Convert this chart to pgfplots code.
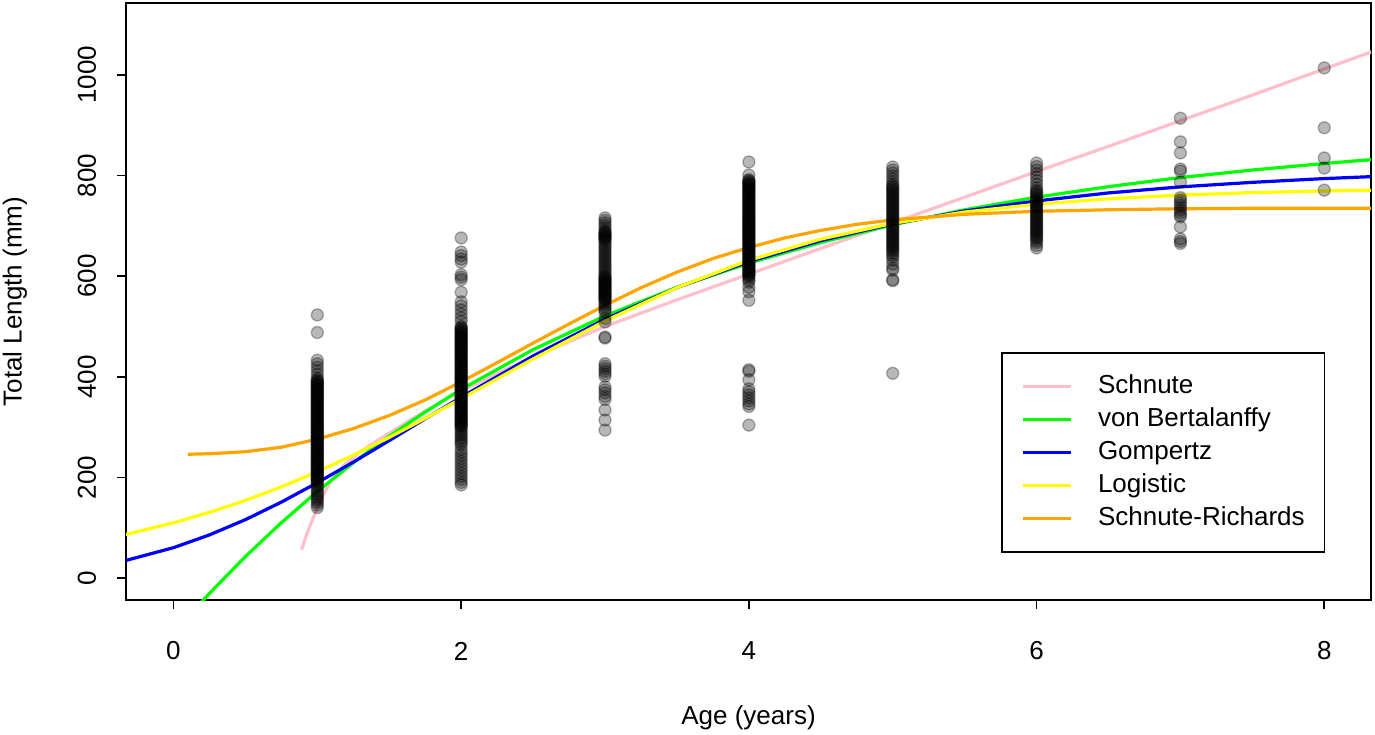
\documentclass[border=0pt]{standalone}
\usepackage{fontspec}
\setmainfont{Liberation Sans}
\usepackage{pgfplots}
\usepackage{pgfplotstable}
\pgfplotsset{compat=1.18}
\usetikzlibrary{calc}
\definecolor{rpink}{HTML}{FFC0CB}
\definecolor{rgreen}{HTML}{00FF00}
\definecolor{rblue}{HTML}{0000FF}
\definecolor{ryellow}{HTML}{FFFF00}
\definecolor{rorange}{HTML}{FFA500}

\pgfplotstableread{
x y
0.89 56
0.93 90
0.97 118
1.0 140
1.05 170
1.1 195
1.2 228
1.3 251
1.4 270
1.5 288
1.75 332
2.0 372
2.5 440
3.0 500
3.5 553
4.0 604
4.5 655
5.0 706
5.5 757
6.0 808
6.5 858
7.0 909
7.5 960
8.0 1012
8.33 1046
}\schnute

\pgfplotstableread{
x y
0.15 -61.5
0.25 -30.6
0.5 42.6
0.75 110
1 172
1.25 229
1.5 282
1.75 330
2 375
2.5 454
3 521
3.5 578
4 626
4.5 667
5 702
5.5 732
6 757
6.5 778
7 796
7.5 811
8 824
8.34 832
}\vonbert

\pgfplotstableread{
x y
-0.34 34.2
0 60.3
0.25 85.7
0.5 116.0
0.75 150.9
1 189.4
1.25 230.5
1.5 273.2
1.75 316.5
2 359.4
2.5 441.3
3 514.5
3.5 577.2
4 628.9
4.5 670.7
5 703.8
5.5 729.6
6 749.5
6.5 765.5
7 777.5
7.5 786.5
8 794
8.34 798
}\gompertz

\pgfplotstableread{
x y
-0.34 85.9
0 109.7
0.25 130.5
0.5 154.2
0.75 181.1
1 211.2
1.25 244.1
1.5 279.6
1.75 317.3
2 356.3
2.5 435.5
3 510.9
3.5 577.2
4 631.6
4.5 673.8
5 705
5.5 727.4
6 743.1
6.5 753.8
7 761.1
7.5 766.1
8 769.4
8.34 771.0
}\logistic

\pgfplotstableread{
x y
0.1 246
0.25 247
0.5 251
0.75 260
1.0 276
1.25 297
1.5 323
1.75 354
2.0 390
2.25 428
2.5 467
2.75 505
3.0 542
3.25 577
3.5 608
3.75 635
4.0 657
4.25 676
4.5 691
4.75 703
5.0 712
5.5 723
6.0 729
6.5 732
7.0 734
7.5 735
8.0 735
8.34 735
}\schnuterich

\begin{document}
\fontsize{13}{15.6}\selectfont
\begin{tikzpicture}
\begin{axis}[
  scale only axis, width=622.5pt, height=298.5pt,
  xmin=-0.33, xmax=8.325, ymin=-43.7, ymax=1143,
  axis line style={line width=0.8pt},
  xtick={0,2,4,6,8}, ytick={0,200,400,600,800,1000},
  xtick pos=bottom, ytick pos=left,
  tick align=outside, major tick length=4.5pt,
  every tick/.style={black, line width=0.8pt},
  /pgf/number format/assume math mode=true,
  /pgf/number format/1000 sep={},
  xticklabel style={anchor=center, yshift=-21pt},
  yticklabel style={anchor=center, xshift=-15pt, rotate=90},
  xlabel={Age (years)}, ylabel={Total Length (mm)},
  every axis x label/.style={at={(axis description cs:0.5,0)}, anchor=center, yshift=-59pt},
  every axis y label/.style={at={(axis description cs:0,0.5)}, anchor=center, xshift=-55.5pt, rotate=90},
  legend style={at={(axis description cs:0.7028,0.4154)}, anchor=north west,
    draw=black, line width=0.8pt, inner xsep=10pt, inner ysep=8.5pt,
    column sep=12.5pt, row sep=0pt,
    nodes={inner sep=0pt, minimum height=16.5pt, anchor=west}},
  legend cell align=left,
  legend image code/.code={\draw[#1] (0pt,0pt) -- (24pt,0pt);},
]
% scattered (isolated) observations
\addplot[only marks, mark=*, mark size=3pt, mark options={draw=black, fill=black, opacity=0.28, line width=0.7pt}, forget plot] coordinates {
(1,523)(1,488)(1,433)(1,426)(1,419)(1,412)(1,405)(1,398)(1,145)(1,140)
(2,676)(2,648)(2,641)(2,634)(2,628)(2,603)(2,598)(2,593)(2,568)(2,549)(2,541)(2,533)(2,525)(2,517)(2,510)
(2,256)(2,250)(2,244)(2,238)(2,232)(2,226)(2,220)(2,214)(2,208)(2,202)(2,196)(2,190)(2,185)
(3,716)(3,711)(3,706)(3,701)(3,696)(3,691)
(3,516)(3,509)(3,479)(3,477)(3,426)(3,421)(3,416)(3,411)(3,406)(3,401)(3,380)(3,374)(3,368)(3,361)(3,355)(3,334)(3,314)(3,294)
(4,827)(4,801)(4,578)(4,569)(4,552)(4,414)(4,411)(4,394)(4,376)(4,370)(4,364)(4,358)(4,352)(4,346)(4,341)(4,304)
(5,817)(5,811)(5,805)(5,799)(5,793)(5,787)(5,632)(5,624)(5,616)(5,612)(5,593)(5,591)(5,407)
(6,825)(6,818)(6,811)(6,804)(6,797)(6,790)(6,783)(6,776)(6,661)(6,656)
(7,914)(7,867)(7,845)(7,813)(7,809)(7,787)(7,756)(7,751)(7,746)(7,741)(7,736)(7,731)(7,726)(7,721)(7,718)(7,698)(7,674)(7,669)(7,665)
(8,1014)(8,895)(8,835)(8,815)(8,771)
};
% dense cores of the age groups (many overlapping observations)
\addplot[only marks, mark=*, mark size=3pt, mark options={draw=black, fill=black, opacity=0.28, line width=0.7pt}, forget plot] coordinates {
(1,394)(1,392)(1,390)(1,388)(1,386)(1,384)(1,382)(1,380)(1,378)(1,376)(1,374)(1,372)(1,370)(1,368)(1,366)(1,364)(1,362)(1,360)(1,358)(1,356)(1,354)(1,352)(1,350)(1,348)(1,346)(1,344)(1,342)(1,340)(1,338)(1,336)(1,334)(1,332)(1,330)(1,328)(1,326)(1,324)(1,322)(1,320)(1,318)(1,316)(1,314)(1,312)(1,310)(1,308)(1,306)(1,304)(1,302)(1,300)(1,298)(1,296)(1,294)(1,292)(1,290)(1,288)(1,286)(1,284)(1,282)(1,280)(1,278)(1,276)(1,274)(1,272)(1,270)(1,268)(1,266)(1,264)(1,262)(1,260)(1,258)(1,256)(1,254)(1,252)(1,250)(1,248)(1,246)(1,244)(1,242)(1,240)(1,238)(1,236)(1,234)(1,232)(1,230)(1,228)(1,226)(1,224)(1,222)(1,220)(1,218)(1,216)(1,214)(1,212)(1,210)(1,208)(1,206)(1,204)(1,202)(1,200)(1,198)(1,196)(1,194)(1,192)(1,190)(1,186)(1,182)(1,178)(1,174)(1,170)(1,166)(1,162)(1,158)(1,154)(1,150)
(2,500)(2,498)(2,496)(2,494)(2,492)(2,490)(2,488)(2,486)(2,484)(2,482)(2,480)(2,478)(2,476)(2,474)(2,472)(2,470)(2,468)(2,466)(2,464)(2,462)(2,460)(2,458)(2,456)(2,454)(2,452)(2,450)(2,448)(2,446)(2,444)(2,442)(2,440)(2,438)(2,436)(2,434)(2,432)(2,430)(2,428)(2,426)(2,424)(2,422)(2,420)(2,418)(2,416)(2,414)(2,412)(2,410)(2,408)(2,406)(2,404)(2,402)(2,400)(2,398)(2,396)(2,394)(2,392)(2,390)(2,388)(2,386)(2,384)(2,382)(2,380)(2,378)(2,376)(2,374)(2,372)(2,370)(2,368)(2,366)(2,364)(2,362)(2,360)(2,358)(2,356)(2,354)(2,352)(2,350)(2,348)(2,346)(2,344)(2,342)(2,340)(2,338)(2,336)(2,334)(2,332)(2,330)(2,328)(2,326)(2,324)(2,322)(2,320)(2,318)(2,316)(2,314)(2,312)(2,310)(2,308)(2,306)(2,304)(2,302)(2,300)(2,296)(2,292)(2,288)(2,284)(2,280)(2,276)(2,272)(2,268)(2,264)
(3,688)(3,686)(3,684)(3,682)(3,680)(3,678)(3,676)(3,674)(3,672)(3,668)(3,664)(3,660)(3,656)(3,652)(3,648)(3,644)(3,640)(3,636)(3,632)(3,628)(3,624)(3,620)(3,616)(3,612)(3,608)(3,604)(3,600)(3,598)(3,596)(3,594)(3,592)(3,590)(3,588)(3,586)(3,584)(3,582)(3,580)(3,578)(3,576)(3,574)(3,572)(3,570)(3,568)(3,566)(3,564)(3,562)(3,560)(3,558)(3,556)(3,554)(3,552)(3,548)(3,544)(3,540)(3,536)(3,532)(3,528)
(4,792)(4,790)(4,788)(4,786)(4,784)(4,782)(4,780)(4,778)(4,776)(4,774)(4,772)(4,770)(4,768)(4,766)(4,764)(4,762)(4,760)(4,758)(4,756)(4,754)(4,752)(4,750)(4,748)(4,746)(4,744)(4,742)(4,740)(4,738)(4,736)(4,734)(4,732)(4,730)(4,728)(4,726)(4,724)(4,722)(4,720)(4,718)(4,716)(4,714)(4,712)(4,710)(4,708)(4,706)(4,704)(4,702)(4,700)(4,698)(4,696)(4,694)(4,692)(4,690)(4,688)(4,686)(4,684)(4,682)(4,680)(4,678)(4,676)(4,674)(4,672)(4,670)(4,668)(4,666)(4,664)(4,662)(4,660)(4,658)(4,656)(4,654)(4,652)(4,650)(4,648)(4,646)(4,644)(4,642)(4,640)(4,638)(4,636)(4,634)(4,632)(4,630)(4,628)(4,626)(4,624)(4,622)(4,620)(4,618)(4,616)(4,614)(4,612)(4,610)(4,608)(4,606)(4,604)(4,602)(4,600)(4,596)(4,592)(4,588)
(5,782)(5,779)(5,776)(5,773)(5,770)(5,767)(5,764)(5,761)(5,758)(5,755)(5,752)(5,749)(5,746)(5,743)(5,740)(5,737)(5,734)(5,731)(5,728)(5,725)(5,722)(5,719)(5,716)(5,713)(5,710)(5,707)(5,704)(5,701)(5,698)(5,695)(5,692)(5,689)(5,686)(5,683)(5,680)(5,677)(5,674)(5,671)(5,668)(5,665)(5,662)(5,659)(5,656)(5,653)(5,650)(5,646)(5,642)(5,638)
(6,771)(6,768)(6,765)(6,762)(6,759)(6,756)(6,753)(6,750)(6,747)(6,744)(6,741)(6,738)(6,735)(6,732)(6,729)(6,726)(6,723)(6,720)(6,717)(6,714)(6,711)(6,708)(6,705)(6,702)(6,699)(6,696)(6,693)(6,690)(6,687)(6,684)(6,681)(6,678)(6,675)(6,671)(6,667)
};
\addplot[rpink, line width=1.6pt] table {\schnute};
\addlegendentry{Schnute}
\addplot[rgreen, line width=1.6pt] table {\vonbert};
\addlegendentry{von Bertalanffy}
\addplot[rblue, line width=1.6pt] table {\gompertz};
\addlegendentry{Gompertz}
\addplot[ryellow, line width=1.6pt] table {\logistic};
\addlegendentry{Logistic}
\addplot[rorange, line width=1.6pt] table {\schnuterich};
\addlegendentry{Schnute-Richards}
\end{axis}
\pgfresetboundingbox
\path ($(current axis.south west)+(-63pt,-67pt)$) rectangle ($(current axis.north east)+(2pt,1.5pt)$);
\end{tikzpicture}
\end{document}
